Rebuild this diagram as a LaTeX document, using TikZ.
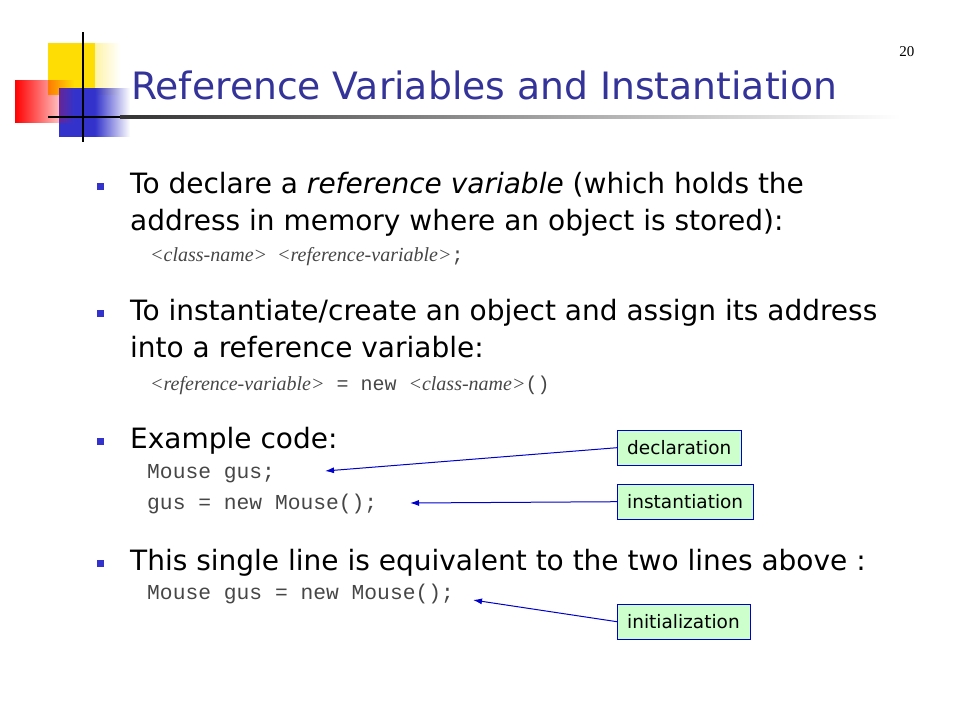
\documentclass[tikz,border=0pt]{standalone}
\usepackage{fontspec}
\setmainfont{DejaVu Sans}
\newfontfamily\codefont{Liberation Mono}
\newfontfamily\serifit{Liberation Serif}[ItalicFont={Liberation Serif Italic}]
\usetikzlibrary{arrows.meta,fadings}
\definecolor{titleblue}{RGB}{51,51,153}
\definecolor{bulblue}{RGB}{51,51,204}
\definecolor{boxgreen}{RGB}{204,255,204}
\definecolor{codegray}{RGB}{70,70,70}
\tikzset{
  body/.style={anchor=base west,inner sep=0pt,font=\fontsize{28}{34}\selectfont},
  code/.style={anchor=base west,inner sep=0pt,font=\fontsize{21.3}{24}\codefont,text=codegray},
  bul/.style={fill=bulblue,minimum size=7pt,inner sep=0pt},
  lbl/.style={draw=blue!80!black,fill=boxgreen,font=\fontsize{18.5}{22}\selectfont,minimum height=35pt,inner xsep=10pt},
  arr/.style={draw=blue!80!black,line width=1pt,-{Latex[length=9pt,width=6pt]}}
}
\begin{document}
\begin{tikzpicture}[x=1pt,y=-1pt]
\useasboundingbox (0,0) rectangle (960,720);
% logo
\fill[yellow!80!orange,path fading=east] (48,43) rectangle (120,95);
\fill[yellow!80!orange] (48,43) rectangle (95,95);
\fill[bulblue] (59,88) rectangle (95,137);
\fill[bulblue,path fading=east] (95,88) rectangle (130,137);
\fill[red,path fading=east] (15,80) rectangle (74,123);
\draw[line width=2.5pt] (83,32) -- (83,142);
\draw[line width=2.5pt] (48,117) -- (120,117);
\shade[left color=black!80,right color=white] (120,115.8) rectangle (900,118.2);
\node[anchor=base east,font=\fontsize{15}{18}\serifit] (pg) at (918,56) {20};
\node[anchor=base west,inner sep=0pt,text=titleblue,font=\fontsize{37.7}{44}\selectfont] (title) at (131,99) {Reference Variables and Instantiation};
% bullets
\node[bul] (b1) at (100,186) {};
\node[body] (t1) at (130,193) {To declare a \textit{reference variable} (which holds the};
\node[body] (t1b) at (130,230) {address in memory where an object is stored):};
\node[anchor=base west,inner sep=0pt,font=\fontsize{20}{24}\serifit,text=codegray] (c1) at (150,261) {\textit{<class-name>}\ \ \textit{<reference-variable>}{\codefont ;}};
\node[bul] (b2) at (100,313) {};
\node[body] (t2) at (130,320) {To instantiate/create an object and assign its address};
\node[body] (t2b) at (130,357) {into a reference variable:};
\node[anchor=base west,inner sep=0pt,font=\fontsize{20}{24}\serifit,text=codegray] (c2) at (150,390) {\textit{<reference-variable>}{\codefont\ = new }\textit{<class-name>}{\codefont ()}};
\node[bul] (b3) at (100,441) {};
\node[body] (t3) at (130,448) {Example code:};
\node[code] (c3) at (147,478) {Mouse gus;};
\node[code] (c4) at (147,509) {gus = new Mouse();};
\node[bul] (b4) at (100,563) {};
\node[body] (t4) at (130,570) {This single line is equivalent to the two lines above :};
\node[code] (c5) at (147,599) {Mouse gus = new Mouse();};
% labels
\node[lbl,anchor=north west] (dec) at (617,430) {declaration};
\node[lbl,anchor=north west] (ins) at (617,484) {instantiation};
\node[lbl,anchor=north west] (ini) at (617,604) {initialization};
\coordinate (p1) at (325,471);
\coordinate (p2) at (410,503);
\coordinate (p3) at (473,600);
\draw[arr] (dec.west) -- (p1);
\draw[arr] (ins.west) -- (p2);
\draw[arr] (ini.west) -- (p3);
\end{tikzpicture}
\end{document}
